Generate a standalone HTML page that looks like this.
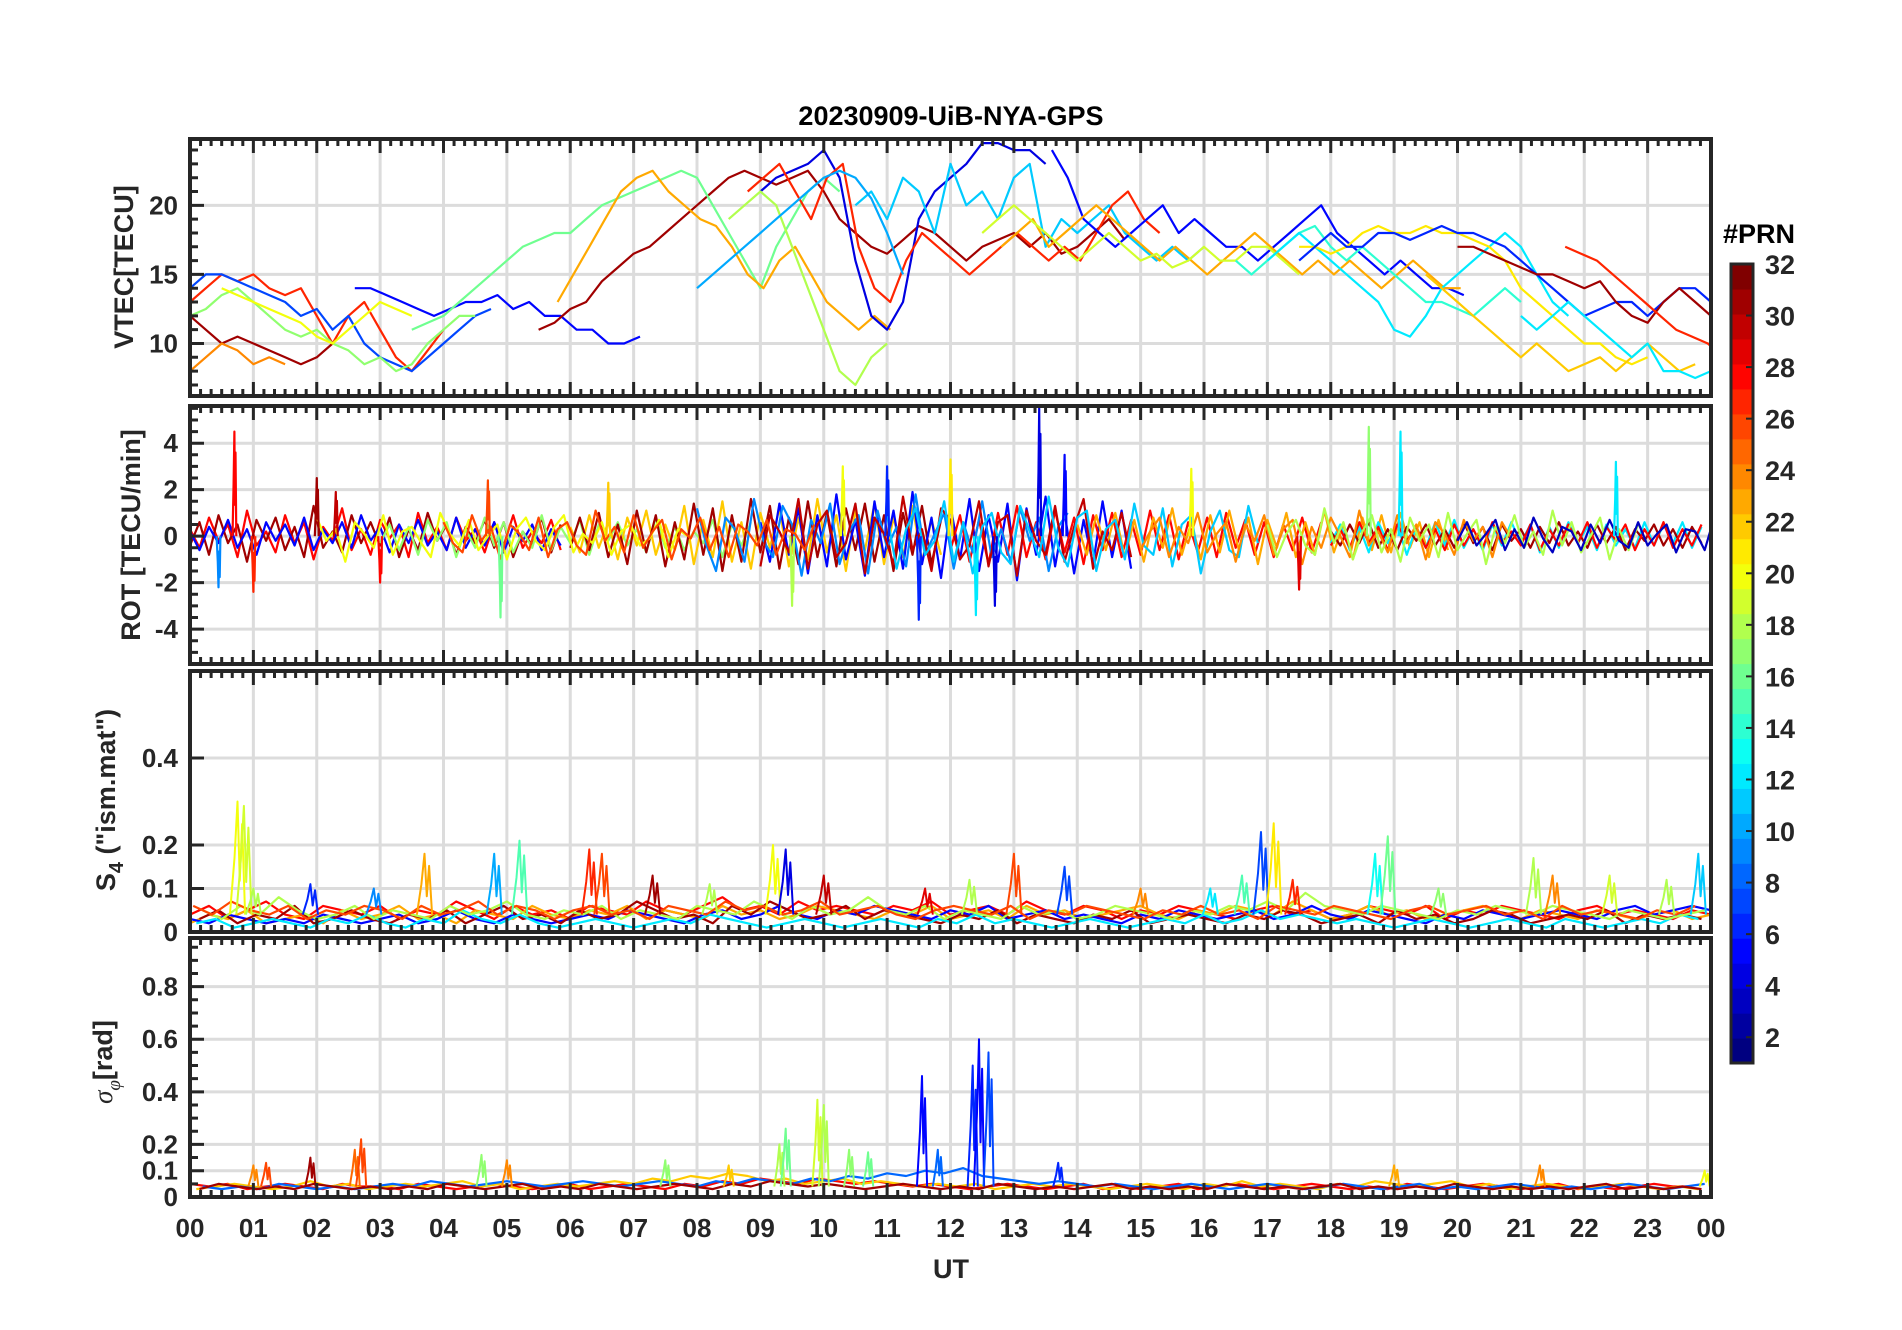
<!DOCTYPE html>
<html><head><meta charset="utf-8">
<style>
html,body{margin:0;padding:0;background:#fff;}
svg{display:block;font-family:"Liberation Sans",Arial,sans-serif;}
</style></head>
<body>
<svg id="chart" width="1902" height="1330" viewBox="0 0 1902 1330" xmlns="http://www.w3.org/2000/svg">
<rect width="1902" height="1330" fill="#fff"/>
<text x="951" y="125" text-anchor="middle" font-size="27" font-weight="bold" fill="#000">20230909-UiB-NYA-GPS</text>
</svg>
<script>
// ---------- DATA ----------
// VTEC passes: prn, start hour, step 0.25 h, values (TECU)
const vtecPrn  = [27,31,7,17,24,20,5,31,16,23,4,11,27,5,23,19,14,12,21,6,31,22,12,27,18,10];
const vtecT0   = [0,0,0,0,0,0.5,2.6,5.5,3.5,5.8,9.0,10.5,8.8,13.6,12.8,12.5,16.5,17,17.5,17.5,20.0,19.5,21,21.7,8.5,8.0];
const vtecVals = [
 [13,14,15,14.5,15,14,13.5,14,12,10,12,13,11,9,8,9.5,11],
 [12,11,10,10.5,10,9.5,9,8.5,9,10],
 [14,15,15,14.5,14,13.5,13,12,12.5,11,12,10,9,8.5,8,9,10,11,12,12.5],
 [12,12.5,13.5,14,13,12,11,10.5,11,10,9.5,8.5,9,8,8.5,10,11,12,12],
 [8,9,10,9.5,8.5,9,8.5],
 [14,13.5,13,12.5,12,11.5,10.5,10,11,12,13,12.5,12],
 [14,14,13.5,13,12.5,12,12.5,13,13,13.5,12.5,13,12,12,11,11,10,10,10.5],
 [11,11.5,12.5,13,14.5,15.5,16.5,17,18,19,20,21,22,22.5,22,21.5,22,22.5,21,19,18,17,16.5,17.5,18.5,18,17,16,17,17.5,18,17,18,16.5,17,18,19,17.5],
 [11,11.5,12,13,14,15,16,17,17.5,18,18,19,20,20.5,21,21.5,22,22.5,22,20,18,16,14,17,19,21,22,21],
 [13,15,17,19,21,22,22.5,21,20,19,18.5,17,15,14,16,17,15,13,12,11,12,11],
 [21,22,22.5,23,24,22,16,12,11,13,19,21,22,23,24.5,24.5,24,24,23],
 [20,21,19,22,21,18,23,20,21,19,22,23,17,19,18,19,20,18,17,16,17,16,17],
 [21,22,23,21,19,22,23,17,14,13,16,18,17,16,15,16,17,18,17,16,17,16,18,20,21,19,18],
 [24,22,19,18,17,18,19,20,18,19,18,17,17,16,17,18,19,20,18,17,16,15,16,15,14,14,13.5],
 [17,18,19,17,18,19,20,19,18,17,16,17,16,15,16,17,18,17,16,15,16,15,16,15,14,15,16,15,14,14],
 [18,19,20,19,18,17,16,17,18,17,16,16.5,15.5,16,17,16,16,17,17,16,15],
 [16,15,16,17,18,18.5,17,16,17,16,15,14,13,13,12.5,12,13,14,13],
 [16,17,18,17,16,15,14,13,11,10.5,12,14,15,16,17,18,17,15,13,12],
 [17,17,16.5,17,18,18.5,18,18,18.5,18,18,17.5,17,16,14,13,12,11,10,10,9,8.5,9],
 [16,17,18,17,17,18,18,17.5,18,18.5,18,18,17.5,17,16,15,14,13,12,12.5,13,13,12,13,14,14,13],
 [17,17,16.5,16,15.5,15,15,14.5,14,14.5,13,12,11.5,13,14,13,12],
 [15,14,13,12,11,10,9,10,9,8,8.5,9,8,9,10,9,8,8.5],
 [12,11,12,13,12,11,10,9,10,8,8,7.5,8,9,10,11],
 [17,16.5,16,15,14,13,12,11,10.5,10,9,8.5],
 [19,20,21,20,17,14,11,8,7,9,10],
 [14,15,16,17,18,19,20,21,22,22.5,22,20.5,18,15]
];
// ROT passes: prn, start hour, step 0.15 h, values (TECU/min)
const rotPrn = [28,31,5,17,22,31,5,28,23,12,31,28,20,9,30,11,24,18,3,26];
const rotT0  = [0,0,0,3,6,6,9,12,14,18,18,18,2,8,9,11,15,17,20,4];
const rotVals = [
 [0.3,-0.5,0.8,-0.2,0.5,-0.9,1.1,-0.4,0.2,-0.7,0.9,-0.3,0.6,-1.0,0.4,-0.2,1.2,-0.6,0.3,-0.8,0.7,-0.1,0.5,-0.9,1.0,-0.3,0.4,-0.6,0.8,-0.2,0.3,-0.7,0.6,-0.4,0.9,-0.5,0.2,-0.3,0.7,-0.6],
 [-0.4,0.6,-0.8,0.9,-0.3,0.5,-1.1,0.7,-0.2,0.8,-0.6,0.4,-0.9,1.3,-0.5,0.2,-0.7,0.9,-0.3,0.6,-0.4,0.8,-0.9,0.3,-0.6,1.0,-0.2,0.5,-0.8,0.4,-0.3,0.7,-0.5,0.6,-0.9,0.2,-0.4,0.8,-0.7,0.5],
 [0.2,-0.6,0.4,-0.3,0.7,-0.5,0.3,-0.8,0.6,-0.2,0.5,-0.4,0.8,-0.6,0.3,-0.3,0.6,-0.5,0.9,-0.2,0.4,-0.7,0.5,-0.3,0.7,-0.4,0.2,-0.6,0.8,-0.5,0.3,-0.4,0.6,-0.7,0.4,-0.2,0.5,-0.6,0.3,-0.4],
 [-0.3,0.5,-0.6,0.4,-0.8,0.7,-0.2,0.6,-0.9,0.3,-0.5,0.8,-0.4,0.6,-0.7,0.2,-0.5,0.9,-0.6,0.4,-0.3,0.7,-0.8,0.5,-0.2,0.6,-0.4,0.3,-0.7,0.8,-0.5,0.4,-0.6,0.2,-0.3,0.7,-0.9,0.5,-0.4,0.6],
 [0.4,-0.7,0.9,-0.5,0.6,-1.0,0.8,-0.4,1.1,-0.8,0.5,-0.6,1.3,-1.2,0.7,-0.9,1.5,-1.1,0.6,-1.4,1.0,-0.5,1.2,-1.3,0.8,-1.0,1.6,-0.7,0.9,-1.5,1.1,-0.6,1.4,-1.2,0.8,-0.9,1.3,-1.1,0.7,-0.8],
 [-0.5,0.8,-0.6,1.0,-0.9,0.5,-1.2,1.1,-0.7,0.9,-1.3,0.6,-1.0,1.4,-0.8,1.2,-1.5,0.9,-1.1,1.6,-0.7,1.3,-1.4,0.8,-1.2,1.5,-0.9,1.0,-1.3,1.2,-0.6,1.4,-1.1,0.9,-1.5,1.0,-0.8,1.3,-1.2,0.7],
 [0.6,-1.1,1.4,-0.8,1.2,-1.6,0.9,-1.3,1.8,-1.0,0.7,-1.7,1.5,-0.9,1.1,-1.4,1.9,-1.2,0.8,-1.8,1.3,-1.0,1.6,-1.5,0.9,-1.1,1.4,-1.9,1.2,-0.8,1.7,-1.3,1.0,-1.6,0.7,-1.2,1.5,-0.9,1.1,-1.4],
 [-0.6,0.9,-1.1,0.7,-1.2,1.0,-0.8,1.3,-0.9,0.6,-1.0,1.1,-0.7,0.8,-1.2,0.9,-0.6,1.0,-0.9,0.7,-0.8,1.1,-0.6,0.9,-1.0,0.6,-0.7,0.8,-0.9,1.0,-0.5,0.7,-0.8,0.6,-0.9,0.5,-0.6,0.8,-0.7,0.6],
 [0.5,-0.8,0.9,-0.6,1.0,-0.9,0.7,-1.1,0.8,-0.5,1.2,-0.8,0.6,-1.0,0.9,-0.7,1.1,-0.6,0.8,-1.2,0.7,-0.5,1.0,-0.9,0.6,-0.8,1.1,-0.7,0.5,-1.0,0.8,-0.6,0.9,-0.7,1.0,-0.5,0.6,-0.9,0.7,-0.6],
 [-0.3,0.5,-0.6,0.4,-0.7,0.6,-0.3,0.5,-0.8,0.4,-0.5,0.6,-0.4,0.7,-0.5,0.3,-0.6,0.5,-0.4,0.6,-0.3,0.5,-0.7,0.4,-0.5,0.6,-0.3,0.4,-0.6,0.5,-0.4,0.3,-0.5,0.6,-0.4,0.5,-0.3,0.6,-0.5,0.4],
 [0.2,-0.4,0.5,-0.3,0.6,-0.5,0.3,-0.6,0.4,-0.2,0.5,-0.4,0.3,-0.5,0.6,-0.3,0.4,-0.6,0.5,-0.2,0.3,-0.5,0.4,-0.3,0.6,-0.4,0.2,-0.5,0.5,-0.3,0.4,-0.6,0.3,-0.2,0.5,-0.4,0.3,-0.5,0.4,-0.3],
 [-0.4,0.3,-0.5,0.6,-0.3,0.4,-0.6,0.5,-0.2,0.4,-0.5,0.3,-0.6,0.5,-0.4,0.3,-0.5,0.6,-0.3,0.2,-0.4,0.5,-0.6,0.3,-0.4,0.5,-0.3,0.6,-0.5,0.4,-0.2,0.5,-0.6,0.3,-0.4,0.6,-0.5,0.3,-0.4,0.5],
 [0.8,-0.2,0.3,-1.1,0.6,0.1,-0.5,0.9,-0.8,0.2,0.4,-0.3,-0.9,1.0,0.1,-0.4,0.7,-0.6,0.0,0.5,-1.0,0.3,0.8,-0.2,-0.6,0.4,0.9,-0.7,0.1,-0.3,0.6,-0.8,0.2,0.5,-0.4,-0.1,0.7,-0.9,0.3,0.0],
 [1.2,-0.4,-1.5,0.8,0.3,-1.1,1.6,-0.2,-0.9,1.3,0.5,-1.7,0.7,-0.3,1.4,-1.2,0.2,0.9,-1.6,1.1,-0.5,0.4,-1.3,1.8,-0.8,0.1,1.0,-1.4,0.6,-0.7,1.5,-0.9,0.3,-1.1,1.2,-0.2,0.8,-1.5,0.4,1.0],
 [-1.3,0.9,0.2,-0.7,1.6,-1.4,0.5,1.1,-0.9,-0.3,1.4,-1.6,0.8,0.1,-1.2,1.7,-0.6,0.3,-1.5,1.2,0.7,-1.0,-0.4,1.5,-1.3,0.6,0.9,-1.7,1.1,-0.2,-0.8,1.3,-1.1,0.4,1.6,-1.4,0.2,-0.6,1.0,-0.9],
 [0.9,-1.4,0.3,1.2,-0.8,-0.2,1.5,-1.1,0.6,-1.6,0.4,1.0,-0.7,-1.2,1.3,0.2,-0.9,1.7,-0.5,-1.3,0.8,1.1,-1.5,0.3,0.7,-1.0,1.4,-0.4,-0.8,1.2,-1.3,0.5,0.9,-1.6,0.2,1.1,-0.6,-0.9,1.3,-0.3],
 [-0.6,0.2,0.8,-0.9,0.4,-0.3,1.0,-0.7,0.1,0.6,-1.1,0.5,-0.2,0.9,-0.8,0.3,0.7,-1.2,0.4,-0.5,0.8,0.0,-0.9,1.1,-0.4,0.2,-0.7,0.9,-0.3,0.5,-1.0,0.6,0.1,-0.8,0.7,-0.2,0.4,-0.9,0.6,-0.1],
 [0.5,-0.9,0.1,0.7,-0.4,-0.8,1.2,-0.3,0.6,-1.0,0.2,0.9,-0.7,0.3,-1.1,0.8,-0.2,0.5,-0.9,1.0,-0.6,0.1,0.7,-1.2,0.4,-0.3,0.9,-0.5,0.2,-0.8,1.1,-0.4,0.6,-0.7,0.0,0.8,-1.0,0.3,-0.6,0.5],
 [-0.2,0.6,-0.4,0.1,0.7,-0.6,0.3,-0.5,0.8,-0.1,-0.7,0.4,0.2,-0.6,0.5,-0.3,0.7,-0.2,-0.5,0.6,-0.4,0.1,0.5,-0.7,0.3,0.2,-0.6,0.8,-0.3,-0.1,0.6,-0.5,0.4,-0.2,0.7,-0.6,0.1,0.3,-0.5,0.4],
 [0.6,-0.3,-0.7,0.9,-0.2,0.4,-1.0,0.5,0.1,-0.6,0.8,-0.9,0.3,0.6,-0.4,-0.8,1.1,-0.2,0.4,-0.7,0.9,-0.5,0.2,0.7,-1.0,0.3,-0.1,0.8,-0.6,0.4,-0.9,0.5,0.2,-0.4,0.7,-0.8,0.3,0.1,-0.6,0.5]
];
// ROT spikes: hour, value, prn
const rotSpikeT   = [0.7,1.0,2.0,2.3,4.7,4.9,9.5,10.3,11.5,12.0,12.4,13.4,13.8,15.8,17.5,18.6,19.1,22.5,0.45,3.0,6.6,11.0,12.7];
const rotSpikeV   = [4.5,-2.4,2.5,1.9,2.4,-3.5,-3.0,3.0,-3.6,3.3,-3.4,5.5,3.5,2.9,-2.3,4.7,4.5,3.2,-2.2,-2.0,2.3,3.0,-3.0];
const rotSpikePrn = [28,27,31,30,26,16,18,20,6,21,12,4,5,20,29,17,12,12,9,28,22,6,4];
// S4 baselines: prn, start, step 0.3 h, values
const s4Prn = [28,23,5,31,12,18,26];
const s4T0  = [0,0,0,0.15,0.1,0.2,0.05];
const s4Vals = [
 [0.04,0.06,0.03,0.05,0.07,0.04,0.03,0.06,0.05,0.04,0.06,0.03,0.05,0.04,0.07,0.05,0.03,0.06,0.04,0.05,0.03,0.06,0.05,0.04,0.07,0.05,0.04,0.06,0.08,0.05,0.06,0.04,0.07,0.05,0.06,0.05,0.04,0.06,0.05,0.07,0.04,0.05,0.06,0.04,0.07,0.05,0.04,0.06,0.05,0.03,0.05,0.04,0.06,0.05,0.04,0.03,0.05,0.06,0.04,0.05,0.03,0.04,0.06,0.05,0.04,0.06,0.03,0.05,0.04,0.06,0.05,0.04,0.03,0.05,0.06,0.04,0.05,0.04,0.03,0.05,0.04],
 [0.02,0.04,0.03,0.05,0.02,0.03,0.04,0.02,0.05,0.03,0.04,0.06,0.03,0.04,0.02,0.05,0.04,0.03,0.06,0.04,0.03,0.05,0.04,0.06,0.03,0.05,0.04,0.03,0.06,0.04,0.05,0.03,0.04,0.06,0.05,0.04,0.03,0.05,0.04,0.06,0.03,0.04,0.05,0.03,0.06,0.04,0.05,0.03,0.04,0.05,0.06,0.04,0.03,0.05,0.04,0.06,0.05,0.04,0.07,0.05,0.03,0.04,0.06,0.04,0.05,0.03,0.04,0.05,0.06,0.04,0.03,0.05,0.04,0.03,0.05,0.04,0.03,0.04,0.05,0.03,0.04],
 [0.03,0.02,0.04,0.03,0.02,0.03,0.02,0.04,0.03,0.02,0.03,0.04,0.02,0.03,0.05,0.03,0.02,0.04,0.03,0.02,0.03,0.04,0.03,0.05,0.04,0.03,0.02,0.04,0.05,0.03,0.04,0.06,0.04,0.03,0.05,0.04,0.06,0.05,0.04,0.03,0.05,0.04,0.06,0.03,0.04,0.05,0.03,0.04,0.03,0.02,0.04,0.03,0.05,0.04,0.03,0.04,0.05,0.03,0.04,0.06,0.04,0.03,0.05,0.04,0.03,0.02,0.04,0.03,0.05,0.04,0.03,0.04,0.05,0.04,0.03,0.05,0.06,0.04,0.05,0.06,0.05],
 [0.03,0.05,0.02,0.04,0.03,0.06,0.02,0.03,0.05,0.03,0.02,0.04,0.03,0.05,0.02,0.04,0.06,0.03,0.04,0.02,0.05,0.03,0.04,0.07,0.05,0.03,0.04,0.02,0.06,0.04,0.07,0.05,0.03,0.04,0.06,0.03,0.05,0.04,0.03,0.02,0.04,0.03,0.05,0.02,0.04,0.03,0.02,0.04,0.03,0.05,0.02,0.03,0.04,0.03,0.02,0.04,0.03,0.05,0.04,0.02,0.03,0.04,0.02,0.05,0.03,0.04,0.02,0.03,0.05,0.04,0.02,0.03,0.04,0.03,0.05,0.02,0.04,0.03,0.04,0.03],
 [0.02,0.03,0.01,0.02,0.03,0.02,0.01,0.03,0.02,0.04,0.02,0.01,0.03,0.02,0.05,0.03,0.02,0.04,0.02,0.01,0.02,0.03,0.02,0.01,0.02,0.03,0.02,0.04,0.03,0.02,0.01,0.02,0.03,0.02,0.01,0.02,0.03,0.02,0.01,0.03,0.02,0.04,0.02,0.03,0.02,0.01,0.02,0.03,0.02,0.01,0.02,0.03,0.02,0.04,0.02,0.03,0.05,0.03,0.04,0.03,0.02,0.03,0.02,0.01,0.02,0.03,0.02,0.01,0.02,0.03,0.02,0.01,0.03,0.02,0.01,0.02,0.03,0.02,0.04,0.03],
 [0.05,0.03,0.06,0.04,0.08,0.05,0.03,0.04,0.06,0.03,0.05,0.04,0.03,0.06,0.04,0.05,0.07,0.04,0.03,0.05,0.04,0.06,0.03,0.05,0.04,0.03,0.06,0.05,0.04,0.07,0.05,0.03,0.06,0.04,0.05,0.08,0.05,0.04,0.06,0.03,0.05,0.04,0.03,0.06,0.04,0.05,0.03,0.04,0.06,0.05,0.04,0.03,0.05,0.04,0.06,0.05,0.07,0.05,0.09,0.06,0.05,0.04,0.06,0.05,0.04,0.03,0.05,0.04,0.06,0.05,0.04,0.06,0.05,0.04,0.03,0.05,0.04,0.03,0.04,0.05],
 [0.06,0.04,0.07,0.05,0.04,0.06,0.03,0.05,0.04,0.06,0.05,0.03,0.06,0.04,0.05,0.07,0.04,0.06,0.05,0.03,0.05,0.06,0.04,0.05,0.03,0.06,0.05,0.04,0.07,0.05,0.06,0.04,0.05,0.07,0.04,0.05,0.06,0.04,0.03,0.05,0.06,0.05,0.04,0.06,0.03,0.05,0.04,0.06,0.05,0.04,0.03,0.05,0.04,0.06,0.04,0.05,0.03,0.06,0.05,0.04,0.06,0.05,0.04,0.03,0.05,0.06,0.04,0.05,0.06,0.04,0.05,0.03,0.06,0.04,0.05,0.04,0.03,0.05,0.04,0.06]
];
// S4 events: hour, peak, prn
const s4EvT   = [0.75,0.85,1.0,1.9,3.7,4.8,5.2,6.3,6.5,7.3,8.2,9.2,9.4,10.0,11.6,12.3,13.0,13.8,15.0,16.1,16.6,16.9,17.1,17.4,18.7,18.9,19.7,21.2,21.5,22.4,23.3,23.8,2.9];
const s4EvV   = [0.30,0.29,0.10,0.11,0.18,0.18,0.21,0.19,0.18,0.13,0.11,0.20,0.19,0.13,0.10,0.12,0.18,0.15,0.10,0.10,0.13,0.23,0.25,0.12,0.18,0.22,0.10,0.17,0.13,0.13,0.12,0.18,0.10];
const s4EvPrn = [20,19,18,6,23,10,15,27,26,31,18,20,4,30,29,18,26,7,24,12,15,7,21,27,13,16,17,18,24,19,18,11,9];
// sigma-phi baselines: prn, start, step 0.3 h
const sgPrn = [28,22,8,31];
const sgT0 = [0,0.1,0.2,0.15];
const sgVals = [
 [0.05,0.04,0.05,0.03,0.04,0.05,0.04,0.03,0.05,0.04,0.04,0.03,0.05,0.04,0.03,0.04,0.05,0.04,0.03,0.04,0.05,0.03,0.04,0.05,0.04,0.03,0.05,0.04,0.06,0.05,0.07,0.06,0.05,0.07,0.06,0.05,0.06,0.05,0.04,0.05,0.04,0.03,0.04,0.05,0.04,0.03,0.04,0.05,0.03,0.04,0.03,0.04,0.05,0.03,0.04,0.05,0.04,0.03,0.04,0.05,0.04,0.03,0.04,0.03,0.05,0.04,0.03,0.04,0.05,0.04,0.03,0.04,0.05,0.03,0.04,0.03,0.04,0.05,0.04,0.04],
 [0.03,0.04,0.05,0.04,0.03,0.04,0.06,0.04,0.05,0.03,0.04,0.05,0.04,0.05,0.06,0.04,0.05,0.03,0.04,0.05,0.04,0.05,0.06,0.05,0.07,0.06,0.08,0.07,0.09,0.08,0.06,0.07,0.05,0.06,0.07,0.05,0.06,0.05,0.04,0.05,0.04,0.05,0.03,0.04,0.05,0.04,0.05,0.04,0.03,0.04,0.05,0.04,0.03,0.05,0.04,0.06,0.04,0.05,0.04,0.03,0.05,0.04,0.06,0.05,0.04,0.05,0.06,0.04,0.05,0.03,0.04,0.05,0.04,0.03,0.04,0.05,0.04,0.03,0.04,0.03],
 [0.04,0.03,0.04,0.03,0.05,0.04,0.03,0.04,0.03,0.04,0.05,0.04,0.06,0.05,0.04,0.05,0.06,0.05,0.04,0.05,0.06,0.05,0.04,0.05,0.06,0.05,0.04,0.06,0.05,0.07,0.06,0.05,0.07,0.06,0.08,0.07,0.09,0.08,0.10,0.09,0.11,0.08,0.07,0.06,0.05,0.06,0.05,0.04,0.05,0.04,0.03,0.04,0.05,0.04,0.03,0.04,0.05,0.04,0.03,0.04,0.05,0.04,0.03,0.04,0.05,0.03,0.04,0.03,0.04,0.05,0.04,0.03,0.04,0.03,0.04,0.05,0.04,0.03,0.04,0.05],
 [0.03,0.05,0.04,0.03,0.04,0.03,0.05,0.04,0.03,0.04,0.03,0.04,0.03,0.05,0.04,0.03,0.04,0.05,0.03,0.04,0.03,0.05,0.04,0.03,0.04,0.05,0.04,0.03,0.05,0.04,0.06,0.05,0.04,0.05,0.04,0.03,0.04,0.05,0.04,0.03,0.04,0.03,0.05,0.04,0.03,0.04,0.03,0.04,0.05,0.03,0.04,0.03,0.04,0.03,0.05,0.04,0.03,0.04,0.03,0.04,0.05,0.03,0.04,0.03,0.04,0.03,0.05,0.04,0.03,0.04,0.03,0.04,0.03,0.04,0.05,0.03,0.04,0.03,0.04,0.03]
];
// sigma-phi events
const sgEvT   = [1.0,1.2,1.9,2.6,2.7,4.6,5.0,7.5,8.5,9.3,9.4,9.9,10.0,10.4,10.7,11.55,11.8,12.35,12.45,12.6,13.7,19.0,21.3,23.9];
const sgEvV   = [0.12,0.13,0.15,0.18,0.22,0.16,0.14,0.14,0.12,0.20,0.26,0.37,0.35,0.18,0.17,0.46,0.18,0.50,0.60,0.55,0.13,0.12,0.12,0.10];
const sgEvPrn = [24,26,31,25,26,17,24,17,22,18,16,19,18,17,16,5,8,6,5,7,6,23,24,20];
// ticks
const hourLabels = ["00","01","02","03","04","05","06","07","08","09","10","11","12","13","14","15","16","17","18","19","20","21","22","23","00"];
const p1Ticks = [10,15,20];
const p2Ticks = [-4,-2,0,2,4];
const p3Ticks = [0,0.1,0.2,0.4];
const p4Ticks = [0,0.1,0.2,0.4,0.6,0.8];
const cbTicks = [2,4,6,8,10,12,14,16,18,20,22,24,26,28,30,32];

// ---------- LAYOUT ----------
const NS="http://www.w3.org/2000/svg";
const svg=document.getElementById('chart');
const XL=190, XR=1711;
const xs=t=>XL+(t/24)*(XR-XL);
function jet(prn){
  const f=(prn-1)/31;
  const c=v=>Math.round(255*Math.max(0,Math.min(1,v)));
  const r=c(1.5-Math.abs(4*f-3)), g=c(1.5-Math.abs(4*f-2)), b=c(1.5-Math.abs(4*f-1));
  return `rgb(${r},${g},${b})`;
}
function mk(tag,attrs,parent){const e=document.createElementNS(NS,tag);for(const k in attrs)e.setAttribute(k,attrs[k]);(parent||svg).appendChild(e);return e;}

const panels=[
 {name:'vtec',top:139,bot:396,lo:6.2,hi:24.8,ticks:p1Ticks,minor:1},
 {name:'rot',top:406,bot:664,lo:-5.5,hi:5.6,ticks:p2Ticks,minor:0.5},
 {name:'s4',top:671,bot:932,lo:0,hi:0.6,ticks:p3Ticks,minor:0},
 {name:'sigma',top:938,bot:1197,lo:0,hi:0.985,ticks:p4Ticks,minor:0.05}
];
panels.forEach((p,i)=>{
  p.ys=v=>p.bot-(v-p.lo)/(p.hi-p.lo)*(p.bot-p.top);
  const g=mk('g',{});
  
  
  p.g=g;
  const cid='clip'+i;
  const cp=mk('clipPath',{id:cid},g);mk('rect',{x:XL,y:p.top,width:XR-XL,height:p.bot-p.top},cp);
  for(let h=1;h<24;h++){const l=mk('line',{x1:xs(h),x2:xs(h),y1:p.top,y2:p.bot,stroke:'#dcdcdc','stroke-width':3},g);
    }
  p.ticks.forEach(v=>{if(v===p.lo)return;const y=p.ys(v);const l=mk('line',{x1:XL,x2:XR,y1:y,y2:y,stroke:'#dcdcdc','stroke-width':3},g);
    });
  p.data=mk('g',{'clip-path':`url(#${cid})`,fill:'none','stroke-linejoin':'round'},g);
});

function series(p,t0,step,vals,prn,w,nm){
  const pts=vals.map((v,k)=>xs(t0+k*step).toFixed(1)+','+p.ys(v).toFixed(1)).join(' ');
  const pl=mk('polyline',{points:pts,stroke:jet(prn),'stroke-width':w},p.data);
  
  
}
function spike(p,t,v,prn,w,base,hw,nm){
  const pts=[[t-hw,base],[t-hw*0.4,base+(v-base)*0.5],[t,v],[t+hw*0.3,base+(v-base)*0.3],[t+hw*0.6,base+(v-base)*0.8],[t+hw,base]]
    .map(a=>xs(a[0]).toFixed(1)+','+p.ys(a[1]).toFixed(1)).join(' ');
  const pl=mk('polyline',{points:pts,stroke:jet(prn),'stroke-width':w},p.data);
  
  
}
vtecVals.forEach((vals,i)=>series(panels[0],vtecT0[i],0.25,vals,vtecPrn[i],2.2,'vtec-prn'+vtecPrn[i]));
rotVals.forEach((vals,i)=>series(panels[1],rotT0[i],0.15,vals,rotPrn[i],2.2,'rot-prn'+rotPrn[i]));
rotSpikeT.forEach((t,i)=>spike(panels[1],t,rotSpikeV[i],rotSpikePrn[i],2.2,0,0.03,'rot-spike'));
s4Vals.forEach((vals,i)=>series(panels[2],s4T0[i],0.3,vals,s4Prn[i],2.2,'s4-prn'+s4Prn[i]));
s4EvT.forEach((t,i)=>spike(panels[2],t,s4EvV[i],s4EvPrn[i],2,0.04,0.12,'s4-event'));
sgVals.forEach((vals,i)=>series(panels[3],sgT0[i],0.3,vals,sgPrn[i],2.2,'sigma-prn'+sgPrn[i]));
sgEvT.forEach((t,i)=>spike(panels[3],t,sgEvV[i],sgEvPrn[i],2,0.04,0.08,'sigma-event'));

const AX='#262626';
panels.forEach((p,i)=>{
  const g=p.g;
  const box=mk('rect',{x:XL,y:p.top,width:XR-XL,height:p.bot-p.top,fill:'none',stroke:AX,'stroke-width':4},g);
  
  let d='';
  for(let k=0;k<=144;k++){const x=xs(k/6);const L=(k%6===0)?14:7;d+=`M${x},${p.bot}v${-L}M${x},${p.top}v${L}`;}
  p.ticks.forEach(v=>{const y=p.ys(v);d+=`M${XL},${y}h14`;});
  if(p.minor){for(let v=Math.ceil(p.lo/p.minor)*p.minor;v<=p.hi;v+=p.minor){const y=p.ys(v);d+=`M${XL},${y}h8`;}}
  const tk=mk('path',{d:d,stroke:AX,'stroke-width':3,fill:'none'},g);
  
  p.ticks.forEach(v=>{
    const t=mk('text',{x:178,y:p.ys(v)+9,'text-anchor':'end','font-size':26,'font-weight':'bold',fill:AX},g);
    t.textContent=String(v);
    
  });
});
function ylab(txt,x,y,nm){const t=mk('text',{x:x,y:y,'text-anchor':'middle','font-size':27,'font-weight':'bold',fill:AX,transform:`rotate(-90 ${x} ${y})`});t.innerHTML=txt;
  }
ylab('VTEC[TECU]',133,267,'vtec-y-axis-title');
ylab('ROT [TECU/min]',140,535,'rot-y-axis-title');
ylab('S<tspan font-size="20" dy="8">4</tspan><tspan dy="-8"> ("ism.mat")</tspan>',115,800,'s4-y-axis-title');
ylab('<tspan font-style="italic" font-weight="normal" font-family="Liberation Serif">σ</tspan><tspan font-size="19" dy="8" font-style="italic" font-weight="normal" font-family="Liberation Serif">φ</tspan><tspan dy="-8">[rad]</tspan>',112,1062,'sigma-y-axis-title');
hourLabels.forEach((s,h)=>{const t=mk('text',{x:xs(h),y:1237,'text-anchor':'middle','font-size':26,'font-weight':'bold',fill:AX});t.textContent=s;
  });
const ut=mk('text',{x:951,y:1278,'text-anchor':'middle','font-size':27,'font-weight':'bold',fill:AX});ut.textContent='UT';

const CBX=1731,CBW=22,CBT=264,CBB=1063;
const cg=mk('g',{});
const cy=v=>CBB-(v-1)/31*(CBB-CBT);
for(let k=1;k<=32;k++){
  const y0=CBB-(k-1)/32*(CBB-CBT), y1=CBB-k/32*(CBB-CBT);
  const r=mk('rect',{x:CBX,y:y1,width:CBW,height:y0-y1+0.6,fill:jet(k)},cg);
  
}
mk('rect',{x:CBX,y:CBT,width:CBW,height:CBB-CBT,fill:'none',stroke:AX,'stroke-width':3},cg);
cbTicks.forEach(v=>{const y=cy(v);mk('line',{x1:CBX+CBW-7,x2:CBX+CBW,y1:y,y2:y,stroke:AX,'stroke-width':2},cg);
  const t=mk('text',{x:1765,y:y+10,'font-size':27,'font-weight':'bold',fill:AX},cg);t.textContent=String(v);
  });
const cbt=mk('text',{x:1723,y:243,'font-size':27,'font-weight':'bold',fill:'#000'},cg);cbt.textContent='#PRN';

</script>
</body></html>
